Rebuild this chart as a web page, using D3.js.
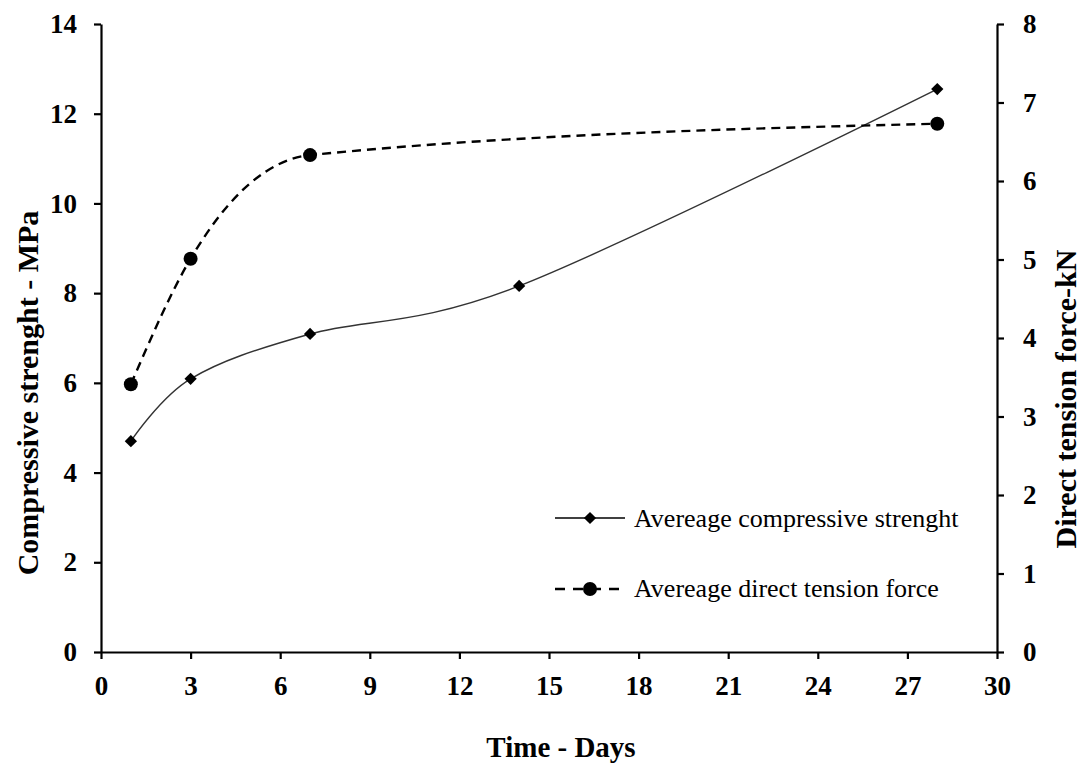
<!DOCTYPE html>
<html><head><meta charset="utf-8">
<script src="https://cdn.jsdelivr.net/npm/d3@7"></script>
<style>body{margin:0;background:#fff}svg{display:block}
svg text{font-family:"Liberation Serif","Times New Roman",serif;}
</style>
</head><body>
<script>
const days = [1, 3, 7, 14, 28];
const compressive = [4.70, 6.09, 7.09, 8.16, 12.55];
const tensionDays = [1, 3, 7, 28];
const tension = [3.41, 5.01, 6.33, 6.73];
const xTicks = [0,3,6,9,12,15,18,21,24,27,30];
const yLeftTicks = [0,2,4,6,8,10,12,14];
const yRightTicks = [0,1,2,3,4,5,6,7,8];
const legendLabels = ["Avereage compressive strenght", "Avereage direct tension force"];

const W = 1081, H = 767;
const m = {left:101, right:W-997, top:24, bottom:H-652};
const svg = d3.select("body").append("svg").attr("width",W).attr("height",H);

const x = d3.scaleLinear().domain([0,30]).range([m.left, W-m.right]);
const yL = d3.scaleLinear().domain([0,14]).range([H-m.bottom, m.top]);
const yR = d3.scaleLinear().domain([0,8]).range([H-m.bottom, m.top]);

function styleAxis(g){
  g.attr("font-family",null);
  g.selectAll("path,line").attr("stroke","#000").attr("stroke-width",2.2);
  g.selectAll("text").attr("font-weight","bold").attr("font-size",27).attr("fill","#000");
}
svg.append("g").attr("transform",`translate(0,${H-m.bottom})`)
  .call(d3.axisBottom(x).tickValues(xTicks).tickSize(7).tickSizeOuter(0).tickPadding(17))
  .call(styleAxis);
svg.append("g").attr("transform",`translate(${m.left},0)`)
  .call(d3.axisLeft(yL).tickValues(yLeftTicks).tickSize(7).tickSizeOuter(0).tickPadding(17))
  .call(styleAxis);
svg.append("g").attr("transform",`translate(${W-m.right},0)`)
  .call(d3.axisRight(yR).tickValues(yRightTicks).tickSize(7).tickSizeOuter(0).tickPadding(19))
  .call(styleAxis);

const compData = days.map((d,i)=>({x:d,y:compressive[i]}));
const tenData = tensionDays.map((d,i)=>({x:d,y:tension[i]}));
const lineL = d3.line().x(d=>x(d.x)).y(d=>yL(d.y)).curve(d3.curveCardinal.tension(0));
const lineR = d3.line().x(d=>x(d.x)).y(d=>yR(d.y)).curve(d3.curveMonotoneX);
svg.append("path").datum(compData).attr("d",lineL).attr("fill","none").attr("stroke","#333").attr("stroke-width",1.4);
svg.append("path").datum(tenData).attr("d",lineR).attr("fill","none").attr("stroke","#000").attr("stroke-width",2.4).attr("stroke-dasharray","9,6");

const diamond = d3.symbol().type(d3.symbolSquare).size(75);
svg.selectAll(".dm").data(compData).join("path")
  .attr("transform",d=>`translate(${x(d.x)},${yL(d.y)}) rotate(45)`).attr("d",diamond).attr("fill","#000");
svg.selectAll(".ci").data(tenData).join("circle")
  .attr("cx",d=>x(d.x)).attr("cy",d=>yR(d.y)).attr("r",7).attr("fill","#000");

const lg = svg.append("g").attr("font-size",26);
lg.append("line").attr("x1",555).attr("x2",625).attr("y1",518).attr("y2",518).attr("stroke","#000").attr("stroke-width",1.4);
lg.append("path").attr("transform","translate(590,518) rotate(45)").attr("d",diamond).attr("fill","#000");
lg.append("text").attr("x",634).attr("y",527).text(legendLabels[0]);
lg.append("line").attr("x1",555).attr("x2",625).attr("y1",589).attr("y2",589).attr("stroke","#000").attr("stroke-width",2.4).attr("stroke-dasharray","10,8");
lg.append("circle").attr("cx",590).attr("cy",589).attr("r",7).attr("fill","#000");
lg.append("text").attr("x",634).attr("y",597).text(legendLabels[1]);

svg.append("text").attr("x",561).attr("y",757).attr("text-anchor","middle")
  .attr("font-weight","bold").attr("font-size",29).text("Time - Days");
svg.append("text").attr("transform",`translate(38,393) rotate(-90)`).attr("text-anchor","middle")
  .attr("font-weight","bold").attr("font-size",30).text("Compressive strenght - MPa");
svg.append("text").attr("transform",`translate(1076,399) rotate(-90)`).attr("text-anchor","middle")
  .attr("font-weight","bold").attr("font-size",30).text("Direct tension force-kN");
</script>
</body></html>
